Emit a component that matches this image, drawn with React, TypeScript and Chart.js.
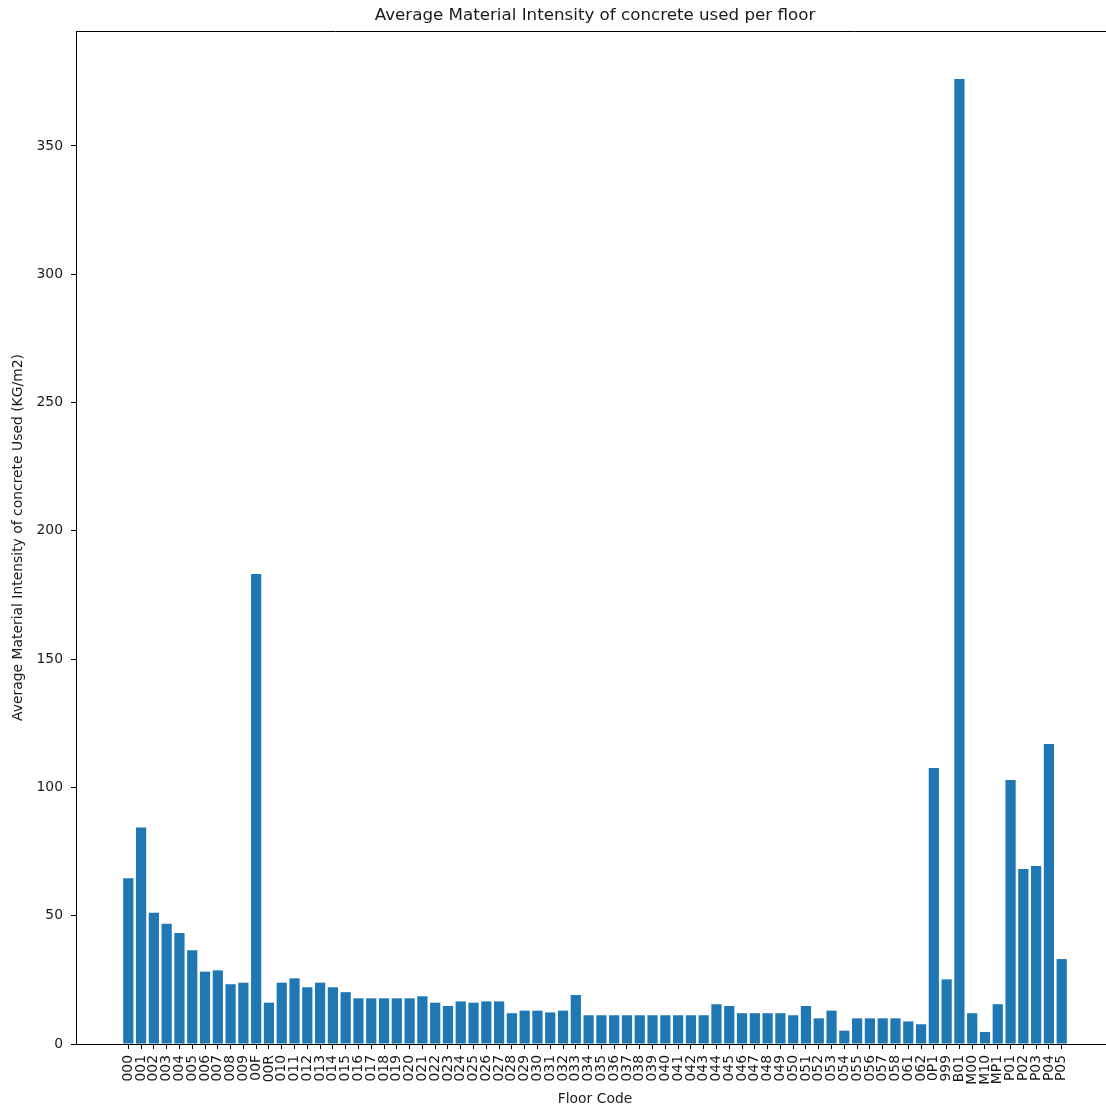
import React, { useEffect, useRef } from 'react';
import { Chart, registerables } from 'chart.js';

Chart.register(...registerables);

const categories = [
  '000', '001', '002', '003', '004', '005', '006', '007', '008', '009', '00F', '00R',
  '010', '011', '012', '013', '014', '015', '016', '017', '018', '019',
  '020', '021', '022', '023', '024', '025', '026', '027', '028', '029',
  '030', '031', '032', '033', '034', '035', '036', '037', '038', '039',
  '040', '041', '042', '043', '044', '045', '046', '047', '048', '049',
  '050', '051', '052', '053', '054', '055', '056', '057', '058', '061', '062',
  '0P1', '999', 'B01', 'M00', 'M10', 'MP1', 'P01', 'P02', 'P03', 'P04', 'P05',
];

const values = [
  64.6, 84.4, 51.2, 46.9, 43.3, 36.5, 28.2, 28.7, 23.3, 23.9, 183.2, 16.1,
  23.9, 25.6, 22.1, 23.9, 22.1, 20.2, 17.8, 17.8, 17.8, 17.8,
  17.8, 18.6, 16.1, 14.8, 16.6, 16.1, 16.6, 16.6, 12.0, 13.0,
  13.0, 12.3, 13.0, 19.1, 11.2, 11.2, 11.2, 11.2, 11.2, 11.2,
  11.2, 11.2, 11.2, 11.2, 15.5, 14.8, 12.0, 12.0, 12.0, 12.0,
  11.2, 14.8, 10.0, 13.0, 5.2, 10.0, 10.0, 10.0, 10.0, 8.8, 7.7,
  107.6, 25.2, 376.1, 12.0, 4.7, 15.5, 102.9, 68.2, 69.4, 116.9, 33.1,
];

const yTickValues = [0, 50, 100, 150, 200, 250, 300, 350];
const yMax = 394.8;
const xMin = -4.09;
const xMax = 77.09;

const chartTitle = 'Average Material Intensity of concrete used per floor';
const xTitle = 'Floor Code';
const yTitle = 'Average Material Intensity of concrete Used (KG/m2)';

const FONT = '"DejaVu Sans", sans-serif';
const TEXT = '#1a1a1a';
const W = 1120;
const H = 1109;

export default function App() {
  const ref = useRef<HTMLCanvasElement>(null);

  useEffect(() => {
    if (!ref.current) return;
    const framePlugin = {
      id: 'frame',
      afterDraw(chart: any) {
        const { ctx, chartArea: a } = chart;
        ctx.save();
        ctx.strokeStyle = '#000';
        ctx.lineWidth = 1;
        ctx.beginPath();
        ctx.moveTo(a.left, Math.round(a.top) + 0.5);
        ctx.lineTo(a.right, Math.round(a.top) + 0.5);
        ctx.moveTo(Math.round(a.right) - 0.5, a.top);
        ctx.lineTo(Math.round(a.right) - 0.5, a.bottom);
        ctx.stroke();
        ctx.fillStyle = TEXT;
        ctx.font = `16.7px ${FONT}`;
        ctx.textAlign = 'center';
        ctx.textBaseline = 'alphabetic';
        ctx.fillText(chartTitle, (a.left + a.right) / 2, 20);
        ctx.restore();
      },
    };

    const chart = new Chart(ref.current, {
      type: 'bar',
      data: {
        datasets: [
          {
            data: values.map((v, i) => ({ x: i, y: v })),
            backgroundColor: '#1f77b4',
            borderWidth: 0,
            barPercentage: 0.8,
            categoryPercentage: 1.0,
          },
        ],
      },
      options: {
        responsive: false,
        animation: false,
        devicePixelRatio: 1,
        layout: { padding: { top: 31, right: 6, left: 0, bottom: 0 } },
        plugins: {
          legend: { display: false },
          title: { display: false },
          tooltip: { enabled: false },
        },
        scales: {
          x: {
            type: 'linear',
            min: xMin,
            max: xMax,
            offset: false,
            afterBuildTicks: (scale: any) => {
              scale.ticks = categories.map((_, i) => ({ value: i }));
            },
            afterFit: (scale: any) => {
              scale.height = 65;
            },
            ticks: {
              autoSkip: false,
              maxRotation: 90,
              minRotation: 90,
              padding: 6,
              color: TEXT,
              font: { family: FONT, size: 13.9 },
              callback: (v: any) => categories[v as number] ?? '',
            },
            grid: {
              offset: false,
              drawOnChartArea: false,
              drawTicks: true,
              tickLength: 5,
              tickColor: '#000',
            },
            border: { display: true, color: '#000', width: 1 },
            title: {
              display: true,
              text: xTitle,
              color: TEXT,
              font: { family: FONT, size: 13.9 },
              padding: { top: 0, bottom: 1 },
            },
          },
          y: {
            type: 'linear',
            min: 0,
            max: yMax,
            afterBuildTicks: (scale: any) => {
              scale.ticks = yTickValues.map((v) => ({ value: v }));
            },
            afterFit: (scale: any) => {
              scale.width = 76;
            },
            ticks: {
              padding: 8,
              color: TEXT,
              font: { family: FONT, size: 13.9 },
            },
            grid: {
              offset: false,
              drawOnChartArea: false,
              drawTicks: true,
              tickLength: 5,
              tickColor: '#000',
            },
            border: { display: true, color: '#000', width: 1 },
            title: {
              display: true,
              text: yTitle,
              color: TEXT,
              font: { family: FONT, size: 13.9 },
              padding: { top: 10, bottom: 0 },
            },
          },
        },
      },
      plugins: [framePlugin],
    } as any);

    return () => chart.destroy();
  }, []);

  return (
    <div
      style={{
        position: 'fixed',
        left: 0,
        top: 0,
        width: 1106,
        height: 1109,
        overflow: 'hidden',
        background: '#fff',
      }}
    >
      <canvas ref={ref} width={W} height={H} style={{ display: 'block', width: W, height: H }} />
    </div>
  );
}
